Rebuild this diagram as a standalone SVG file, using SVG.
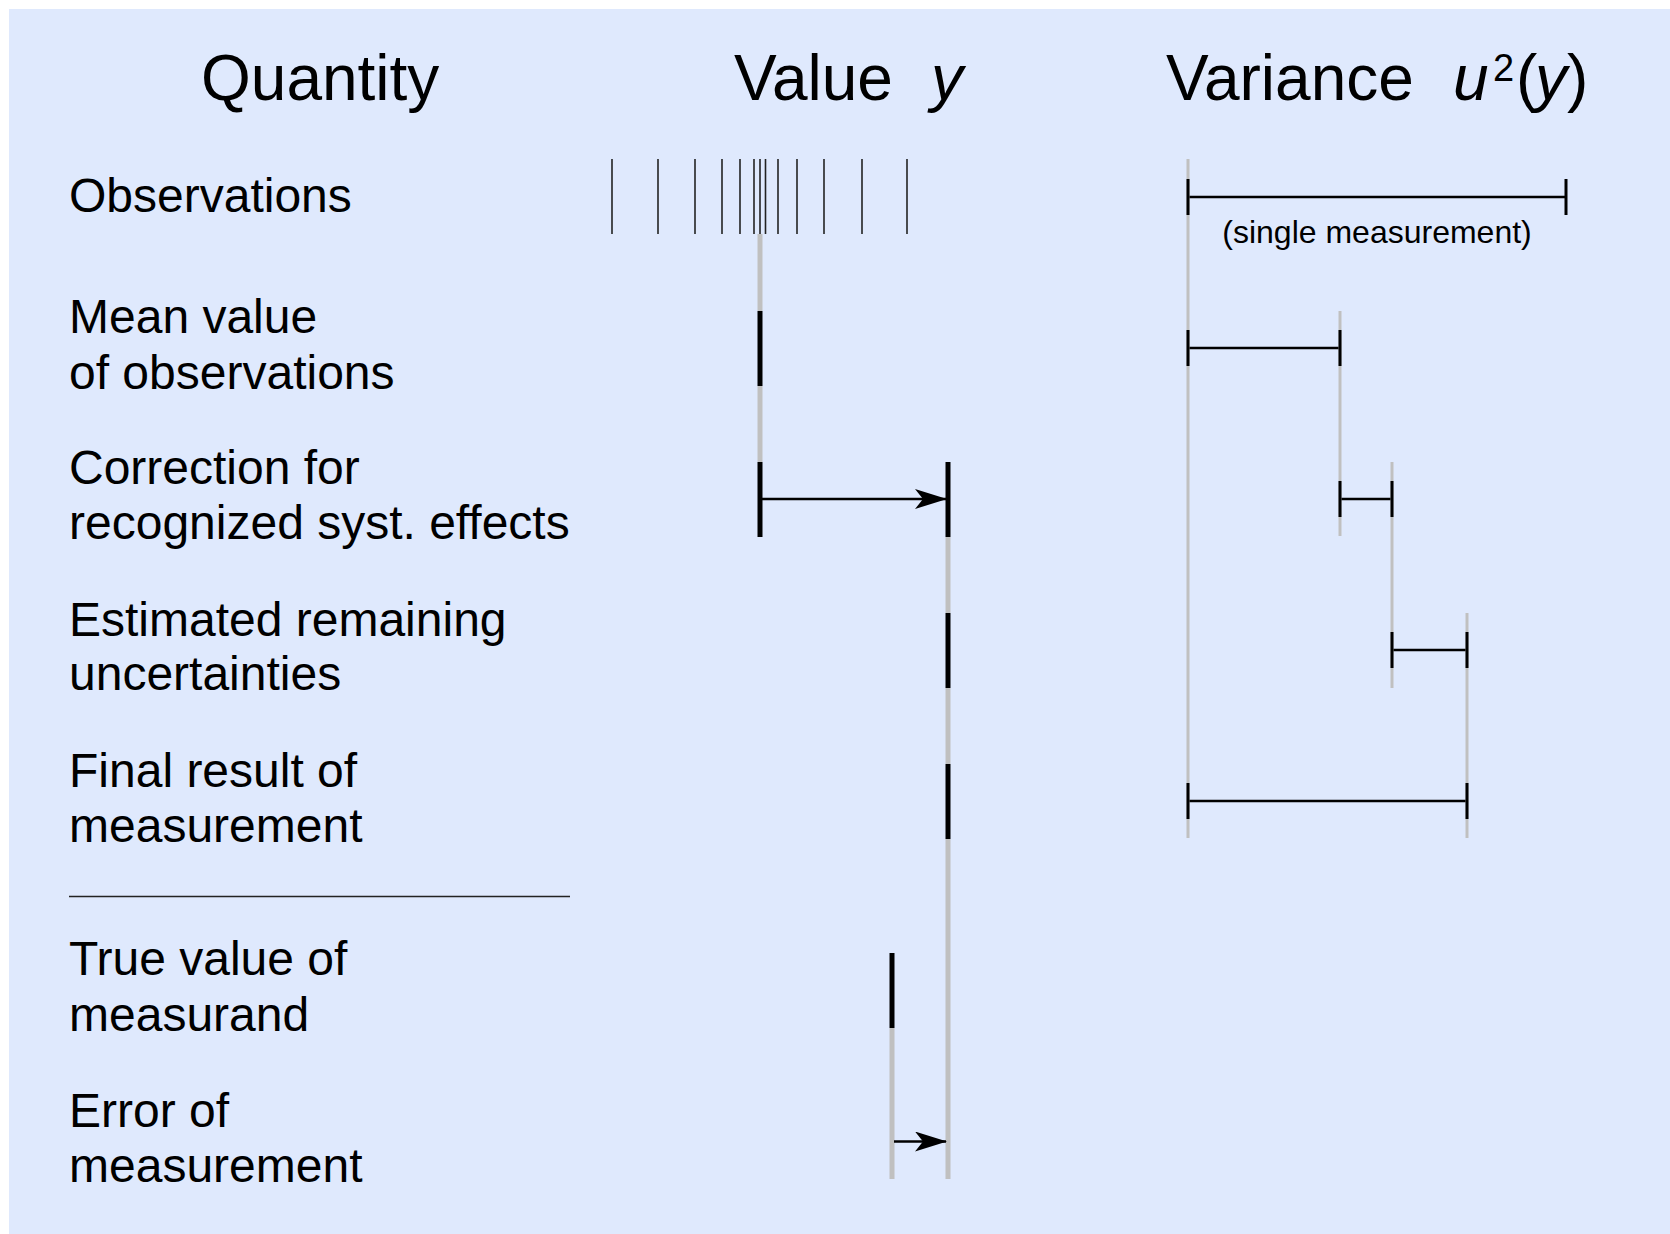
<svg xmlns="http://www.w3.org/2000/svg" width="1670" height="1234" viewBox="0 0 1670 1234">
<style>
text{font-family:"Liberation Sans",Arial,sans-serif;fill:#000}
.hd{font-size:64px}
.lb{font-size:48px}
.sm{font-size:32px}
.it{font-style:italic}
.obs{stroke:#222;stroke-width:1.6}
.gr{stroke:#c0c0c0;stroke-width:5}
.bk{stroke:#000;stroke-width:5}
.bar{stroke:#000;stroke-width:2.6}
.tk{stroke:#000;stroke-width:3}
.gl{stroke:#c0c0c0;stroke-width:3}
.arr{stroke:#000;stroke-width:2.6;fill:none}
</style>
<defs>
<marker id="ah" markerUnits="userSpaceOnUse" markerWidth="32" markerHeight="20" viewBox="0 0 32 20" refX="31" refY="10" orient="auto">
<path d="M0,0 L32,10 L0,20 L8,10 Z" fill="#000"/>
</marker>
</defs>
<rect x="9" y="9" width="1661" height="1225" fill="#dfe9fd"/>

<g id="headers">
<text class="hd" x="201" y="100">Quantity</text>
<text class="hd" x="734" y="100">Value</text>
<text class="hd it" x="931" y="100">y</text>
<text class="hd" x="1166" y="100">Variance</text>
<text class="hd it" x="1453" y="100">u</text>
<text x="1493" y="81" style="font-size:38px">2</text>
<text class="hd" x="1516" y="100">(</text>
<text class="hd it" x="1535" y="100">y</text>
<text class="hd" x="1567" y="100">)</text>
</g>

<g id="row-observations">
<text class="lb" x="69" y="212">Observations</text>
<g id="obs-ticks">
<line class="obs" x1="612" y1="159" x2="612" y2="234"/>
<line class="obs" x1="658" y1="159" x2="658" y2="234"/>
<line class="obs" x1="695" y1="159" x2="695" y2="234"/>
<line class="obs" x1="722" y1="159" x2="722" y2="234"/>
<line class="obs" x1="740" y1="159" x2="740" y2="234"/>
<line class="obs" x1="754" y1="159" x2="754" y2="234"/>
<line class="obs" x1="760" y1="159" x2="760" y2="234"/>
<line class="obs" x1="765.5" y1="159" x2="765.5" y2="234"/>
<line class="obs" x1="778" y1="159" x2="778" y2="234"/>
<line class="obs" x1="797" y1="159" x2="797" y2="234"/>
<line class="obs" x1="824" y1="159" x2="824" y2="234"/>
<line class="obs" x1="862" y1="159" x2="862" y2="234"/>
<line class="obs" x1="907" y1="159" x2="907" y2="234"/>
</g>
<line class="bar" x1="1188" y1="197" x2="1566" y2="197"/>
<line class="tk" x1="1566" y1="179" x2="1566" y2="215"/>
<text class="sm" x="1377" y="243" text-anchor="middle">(single measurement)</text>
</g>

<g id="row-mean">
<text class="lb" x="69" y="333">Mean value</text>
<text class="lb" x="69" y="389">of observations</text>
<line class="bar" x1="1188" y1="348" x2="1340" y2="348"/>
</g>

<g id="row-correction">
<text class="lb" x="69" y="484">Correction for</text>
<text class="lb" x="69" y="539">recognized syst. effects</text>
<line class="bar" x1="1340" y1="499" x2="1392" y2="499"/>
</g>

<g id="row-estimated">
<text class="lb" x="69" y="636">Estimated remaining</text>
<text class="lb" x="69" y="690">uncertainties</text>
<line class="bar" x1="1392" y1="650" x2="1467" y2="650"/>
</g>

<g id="row-final">
<text class="lb" x="69" y="787">Final result of</text>
<text class="lb" x="69" y="842">measurement</text>
<line class="bar" x1="1188" y1="801" x2="1467" y2="801"/>
</g>

<line x1="69" y1="896.5" x2="570" y2="896.5" stroke="#222" stroke-width="1.5"/>

<g id="row-true">
<text class="lb" x="69" y="975">True value of</text>
<text class="lb" x="69" y="1031">measurand</text>
</g>

<g id="row-error">
<text class="lb" x="69" y="1127">Error of</text>
<text class="lb" x="69" y="1182">measurement</text>
</g>

<g id="value-lines">
<line class="gr" x1="760" y1="234" x2="760" y2="311"/>
<line class="bk" x1="760" y1="311" x2="760" y2="386"/>
<line class="gr" x1="760" y1="386" x2="760" y2="462"/>
<line class="bk" x1="760" y1="462" x2="760" y2="537"/>
<line class="bk" x1="948" y1="462" x2="948" y2="537"/>
<line class="gr" x1="948" y1="537" x2="948" y2="613"/>
<line class="bk" x1="948" y1="613" x2="948" y2="688"/>
<line class="gr" x1="948" y1="688" x2="948" y2="764"/>
<line class="bk" x1="948" y1="764" x2="948" y2="839"/>
<line class="gr" x1="948" y1="839" x2="948" y2="1179"/>
<line class="bk" x1="892" y1="953" x2="892" y2="1028"/>
<line class="gr" x1="892" y1="1028" x2="892" y2="1179"/>
</g>

<g id="variance-lines">
<line class="gl" x1="1188" y1="159" x2="1188" y2="838"/>
<line class="gl" x1="1340" y1="311" x2="1340" y2="536"/>
<line class="gl" x1="1392" y1="462" x2="1392" y2="688"/>
<line class="gl" x1="1467" y1="613" x2="1467" y2="838"/>
<line class="tk" x1="1188" y1="179" x2="1188" y2="215"/>
<line class="tk" x1="1188" y1="330" x2="1188" y2="366"/>
<line class="tk" x1="1340" y1="330" x2="1340" y2="366"/>
<line class="tk" x1="1340" y1="481" x2="1340" y2="517"/>
<line class="tk" x1="1392" y1="481" x2="1392" y2="517"/>
<line class="tk" x1="1392" y1="632" x2="1392" y2="668"/>
<line class="tk" x1="1467" y1="632" x2="1467" y2="668"/>
<line class="tk" x1="1188" y1="783" x2="1188" y2="819"/>
<line class="tk" x1="1467" y1="783" x2="1467" y2="819"/>
</g>

<g id="connectors">
<line class="arr" x1="762" y1="499" x2="946" y2="499" marker-end="url(#ah)"/>
<line class="arr" x1="894" y1="1141.5" x2="946" y2="1141.5" marker-end="url(#ah)"/>
</g>
</svg>
